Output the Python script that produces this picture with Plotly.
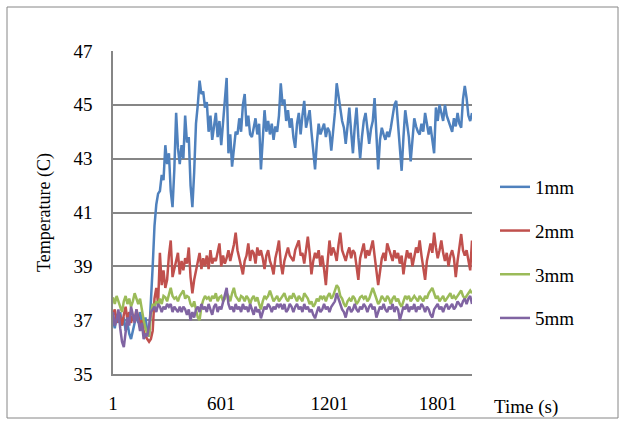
import plotly.graph_objects as go

# time stamps (s), one reading every 10 s
time_s = list(range(1, 2000, 10))

temp_1mm = [
    37.0, 36.7, 37.2, 36.9, 37.3, 36.8, 37.1, 36.6, 36.9, 36.5,
    36.3, 36.6, 37.0, 37.2, 36.9, 37.3, 37.0, 36.7, 37.1, 36.6,
    36.4, 37.5, 39.0, 40.5, 41.3, 41.7, 41.8, 42.4, 42.2, 43.5,
    42.8, 43.2, 41.8, 41.2, 42.6, 44.7, 43.4, 42.8, 43.5, 43.0,
    44.6, 43.6, 43.8, 42.0, 41.2, 42.5, 44.3, 45.0, 45.9, 45.4,
    45.5, 44.9, 45.1, 44.0, 44.6, 43.7, 44.3, 44.7, 43.8, 44.4,
    43.5, 44.4, 45.2, 46.0, 43.2, 43.9, 42.7, 43.5, 44.0, 43.9,
    44.5, 44.0, 45.0, 45.4, 44.2, 44.6, 43.9, 43.8, 44.2, 44.5,
    43.9, 44.3, 42.6, 43.8, 44.8, 44.0, 44.4, 43.9, 44.3, 43.7,
    44.2, 44.0, 44.6, 45.8, 45.0, 45.2, 44.4, 44.8, 44.15, 44.5,
    43.8, 43.4, 44.3, 44.7, 43.9, 44.6, 45.15, 44.15, 44.5, 44.8,
    44.0, 43.4, 42.6, 43.6, 44.3, 43.9, 44.1, 44.3, 43.8, 44.15,
    44.0, 43.3, 44.0, 44.7, 45.8, 45.3, 45.0, 44.4, 44.15, 43.55,
    44.2, 44.9, 44.0, 43.2, 44.2, 44.9, 43.8, 43.0, 43.8, 44.4,
    44.7, 44.0, 43.55, 44.1, 44.4, 45.25, 44.0, 42.6, 43.7, 44.15,
    43.9, 43.7, 44.0, 43.8, 44.15, 44.5, 45.0, 45.15, 44.2, 43.6,
    42.55, 43.8, 44.8, 44.3, 43.8, 42.9, 43.6, 44.5, 44.2, 44.0,
    43.9, 44.3, 44.0, 44.7, 44.3, 43.9, 44.2, 43.7, 43.2, 44.9,
    44.4, 45.0, 44.7, 44.4, 45.0, 44.6, 44.4, 44.2, 44.0, 44.5,
    44.2, 44.7, 44.3, 44.15, 45.2, 45.7, 45.25, 44.6, 44.4, 44.7,
]

temp_2mm = [
    37.2, 37.4, 36.9, 37.3, 37.1, 36.8, 37.2, 37.5, 37.0, 37.3,
    36.9, 37.2, 37.0, 37.4, 37.1, 36.8, 37.0, 36.6, 36.4, 36.3,
    36.2, 36.3, 36.6, 37.8, 38.2, 37.6, 39.5, 38.3, 38.85, 38.2,
    38.5, 39.4, 39.96, 38.6, 38.9, 39.2, 39.5, 38.7, 39.2, 38.85,
    39.3, 39.1, 39.7, 38.6, 38.0, 38.5, 38.85, 39.2, 39.5, 38.9,
    39.3, 39.0, 39.4, 38.9, 39.6, 39.1, 39.3, 39.2, 39.5, 39.85,
    39.0, 39.4, 39.1, 39.3, 39.6, 39.2, 39.5, 39.8, 40.25, 39.6,
    39.3, 39.0, 38.7, 39.2, 39.4, 39.85, 39.2, 39.6, 39.5, 39.1,
    39.7, 39.4, 39.6, 39.3, 38.9, 39.4, 39.6, 39.2, 39.0, 38.7,
    39.3, 39.6, 39.96, 39.1, 38.7, 39.2, 39.5, 39.7, 39.4, 39.3,
    39.2, 39.6, 39.8, 39.96, 39.4, 39.5, 39.1, 39.6, 40.1, 39.5,
    38.7, 39.2, 39.5, 39.3, 39.6, 39.0, 39.4, 38.9, 38.3, 39.2,
    39.96, 39.4, 39.7, 39.5, 39.2, 39.8, 40.25, 39.6, 39.4, 39.2,
    39.5, 39.7, 39.3, 39.6, 39.5, 39.0, 38.5, 39.3, 39.6, 39.85,
    39.3, 39.6, 39.4, 39.7, 39.96, 39.4, 38.9, 38.3, 38.8, 39.3,
    39.5, 39.2, 39.85, 39.6, 39.4, 39.2, 39.6, 39.3, 39.5, 39.1,
    39.4, 38.7, 39.2, 39.6, 39.3, 39.5, 39.0, 39.4, 39.7, 39.5,
    39.96, 39.4, 39.0, 38.5, 39.2, 39.6, 39.85, 39.5, 40.25, 39.7,
    39.3, 39.6, 39.96, 39.5, 39.2, 39.5, 39.0, 39.4, 39.6, 39.3,
    38.6, 39.2, 39.7, 40.2, 39.6, 39.4, 39.6, 39.2, 38.85, 39.96,
]

temp_3mm = [
    37.85, 37.6, 37.9, 37.7, 37.5, 37.3, 37.7, 37.9, 37.6, 37.8,
    37.5, 37.7, 38.0, 37.8, 37.6, 37.8, 37.3, 37.0, 36.7, 36.5,
    36.4, 37.2, 37.6, 37.5, 37.7, 37.6, 37.8, 37.6, 37.9, 37.85,
    37.7, 38.0, 38.2, 37.9, 37.8, 37.85, 37.7, 37.9, 38.0, 38.1,
    37.8, 37.9, 37.85, 37.6, 37.5, 37.7, 37.4, 37.1, 37.0, 37.5,
    37.74, 37.9, 37.8, 37.85, 37.7, 37.9, 37.8, 38.0, 37.7, 37.85,
    37.9, 37.7, 37.8, 38.0, 37.9, 37.7, 38.0, 38.2, 37.9, 37.8,
    37.7, 37.9, 37.85, 37.7, 37.9, 37.8, 37.6, 37.8, 37.9, 37.7,
    37.85, 37.6, 37.4, 37.7, 37.9, 37.8, 37.9, 38.1, 37.9, 37.7,
    37.8, 37.9, 37.7, 37.8, 37.9, 38.0, 37.8, 37.7, 37.9, 37.8,
    38.0, 37.85, 37.7, 37.9, 37.8, 37.7, 38.0, 37.9, 37.8, 37.6,
    37.7, 37.5, 37.6, 37.8, 37.7, 37.9, 37.8, 37.9, 37.7, 37.9,
    38.0, 37.8, 37.9, 38.1, 38.3, 38.2, 37.9, 37.8, 37.6, 37.5,
    37.7, 37.8, 37.7, 37.9, 37.8, 37.6, 37.7, 37.85, 37.9, 37.8,
    37.9, 37.7, 37.8, 38.0, 38.2, 38.0, 37.8, 37.6, 37.7, 37.9,
    37.8, 37.7, 37.9, 37.8, 37.6, 37.8, 37.9, 37.7, 37.8, 37.6,
    37.5, 37.7, 37.9, 37.8, 37.9, 37.7, 37.8, 37.9, 37.8, 37.7,
    37.9, 37.8, 37.7, 37.9, 37.8, 38.0, 38.1, 38.2, 38.0, 37.8,
    37.9, 37.7, 37.8, 37.9, 37.7, 37.8, 37.9, 38.0, 37.8, 37.9,
    37.8, 37.9, 38.0, 38.1, 37.9, 37.8, 37.9, 38.0, 38.1, 38.0,
]

temp_5mm = [
    37.3, 36.8, 37.0, 37.4, 36.7, 36.2, 36.0, 36.6, 37.1, 36.8,
    37.5, 37.2, 36.9, 37.4, 37.0, 36.6, 36.9, 36.3, 36.5, 36.4,
    36.8, 37.3, 37.4, 37.5, 37.3, 37.6, 37.5, 37.3, 37.5, 37.4,
    37.6, 37.5, 37.6, 37.3, 37.5, 37.4, 37.3, 37.5, 37.3, 37.5,
    37.4, 37.2, 37.4, 37.0, 37.3, 37.1, 37.4, 37.5, 37.3, 37.6,
    37.4, 37.5, 37.3, 37.6, 37.4, 37.2, 37.5, 37.6, 37.3, 37.5,
    37.4, 37.7, 37.9, 38.2, 37.6, 37.4, 37.5, 37.3, 37.6, 37.4,
    37.5, 37.3, 37.6, 37.4, 37.5, 37.3, 37.6, 37.4, 37.2, 37.5,
    37.3, 37.4, 37.07, 37.3, 37.5, 37.4, 37.6, 37.5, 37.3, 37.5,
    37.4, 37.6, 37.5, 37.6, 37.4, 37.6, 37.3, 37.4, 37.6, 37.5,
    37.3, 37.5, 37.6, 37.4, 37.5, 37.3, 37.6, 37.4, 37.5, 37.3,
    37.4, 37.2, 37.07, 37.3, 37.5, 37.3, 37.4, 37.6, 37.4, 37.5,
    37.3, 37.5, 37.6, 37.7, 38.0, 37.8, 37.6, 37.4, 37.3, 37.1,
    37.4, 37.5, 37.3, 37.4, 37.6, 37.4, 37.3, 37.5, 37.4, 37.6,
    37.5, 37.3, 37.5, 37.6, 37.4, 37.5, 37.1, 37.3, 37.5, 37.4,
    37.6, 37.4, 37.3, 37.5, 37.4, 37.6, 37.3, 37.5, 37.4, 37.0,
    37.3, 37.5, 37.4, 37.6, 37.3, 37.5, 37.4, 37.6, 37.3, 37.5,
    37.4, 37.6, 37.5, 37.3, 37.5, 37.4, 37.2, 37.1, 37.4, 37.5,
    37.6, 37.4, 37.5, 37.3, 37.5, 37.6, 37.4, 37.5, 37.6, 37.4,
    37.5, 37.7, 37.6, 37.5, 37.7, 37.8, 37.6, 37.8, 37.9, 37.6,
]

series_names = ["1mm", "2mm", "3mm", "5mm"]
series_values = [temp_1mm, temp_2mm, temp_3mm, temp_5mm]
colors = ["#4F81BD", "#C0504D", "#9BBB59", "#8064A2"]

y_ticks = [35, 37, 39, 41, 43, 45, 47]
x_ticks = [1, 601, 1201, 1801]

W, H = 629, 438
L, R, T, B = 113, 472, 51, 374  # plot area in px


def px(xp):
    return (xp - L) / (R - L)


def py(yp):
    return (B - yp) / (B - T)


FONT = "Liberation Serif"
GREY = "#868686"

fig = go.Figure()
for name, vals, col in zip(series_names, series_values, colors):
    fig.add_trace(go.Scatter(
        x=time_s, y=vals, name=name, mode="lines",
        line=dict(color=col, width=2.5),
        legendgroup=name,
    ))

fig.update_layout(
    width=W, height=H,
    margin=dict(l=L, r=W - R, t=T, b=H - B),
    paper_bgcolor="white", plot_bgcolor="white",
    font=dict(family=FONT, size=19, color="black"),
    showlegend=True,
    legend=dict(
        x=px(495), y=py(168), xanchor="left", yanchor="top",
        font=dict(family=FONT, size=19),
        tracegroupgap=16, bgcolor="rgba(0,0,0,0)",
    ),
    xaxis=dict(
        range=[1, 1991], tickvals=x_ticks, ticktext=[str(v) for v in x_ticks],
        showgrid=False, zeroline=False, showline=True,
        linecolor=GREY, linewidth=1.5,
        ticks="outside", ticklen=11, tickcolor="rgba(0,0,0,0)",
    ),
    yaxis=dict(
        range=[35, 47], tickvals=y_ticks,
        showgrid=True, gridcolor=GREY, gridwidth=1.5,
        zeroline=False, showline=True,
        linecolor=GREY, linewidth=1.5,
        ticks="outside", ticklen=15, tickcolor="rgba(0,0,0,0)",
        title=dict(text="Temperature (C)", font=dict(family=FONT, size=18), standoff=18),
    ),
    annotations=[
        dict(text="Time (s)", x=px(492), y=py(407), xref="paper", yref="paper",
             xanchor="left", yanchor="middle", showarrow=False,
             font=dict(family=FONT, size=19)),
    ],
    shapes=[
        dict(type="rect", xref="paper", yref="paper",
             x0=px(7), x1=px(618), y0=py(7), y1=py(418),
             line=dict(color=GREY, width=1), fillcolor="rgba(0,0,0,0)", layer="below"),
    ],
)

# drop the page's default body margin so the chart fills the window
fig.write_html("out.html", config={"displayModeBar": False},
               post_script="document.body.style.margin='0';")
